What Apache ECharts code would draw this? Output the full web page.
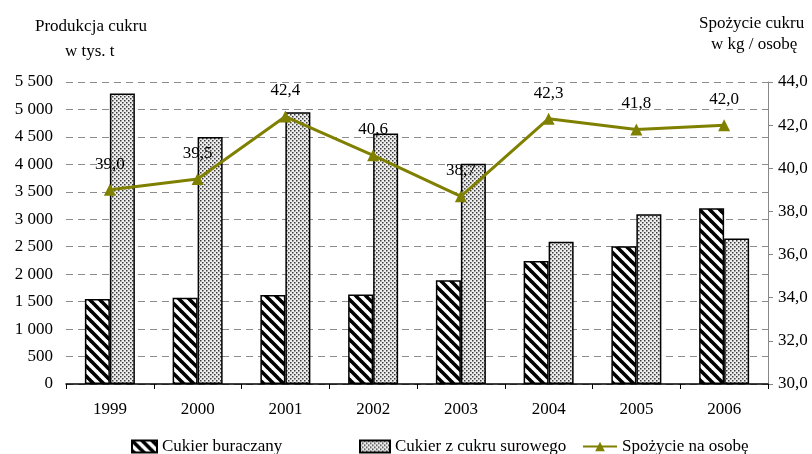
<!DOCTYPE html>
<html>
<head>
<meta charset="utf-8">
<script src="https://cdn.jsdelivr.net/npm/echarts@6/dist/echarts.min.js"></script>
<style>
html,body{margin:0;padding:0;background:#fff;}
#chart{width:812px;height:454px;}
</style>
</head>
<body>
<div id="chart"></div>
<script>
// ---- data ----
var years = ['1999','2000','2001','2002','2003','2004','2005','2006'];
var beetSugar = [1550, 1570, 1620, 1630, 1890, 2240, 2510, 3200];   // Cukier buraczany
var rawSugar  = [5290, 4500, 4950, 4560, 4010, 2590, 3090, 2650];   // Cukier z cukru surowego
var consumption = [39.0, 39.5, 42.4, 40.6, 38.7, 42.3, 41.8, 42.0]; // Spożycie na osobę
var seriesNames = ['Cukier buraczany', 'Cukier z cukru surowego', 'Spożycie na osobę'];
var leftTitle = ['Produkcja cukru', 'w tys. t'];
var rightTitle = ['Spożycie cukru', 'w kg / osobę'];

var FONT = '"Liberation Serif", "Times New Roman", serif';

function hatchPattern(){
  var c = document.createElement('canvas');
  c.width = 10; c.height = 10;
  var g = c.getContext('2d');
  g.fillStyle = '#fff'; g.fillRect(0,0,10,10);
  g.strokeStyle = '#000'; g.lineWidth = 3.6;
  for (var o = -10; o <= 10; o += 10){
    g.beginPath(); g.moveTo(o - 1, -1); g.lineTo(o + 11, 11); g.stroke();
  }
  return c;
}
function dotPattern(){
  var c = document.createElement('canvas');
  c.width = 4; c.height = 4;
  var g = c.getContext('2d');
  g.fillStyle = '#eeeeee'; g.fillRect(0,0,4,4);
  g.fillStyle = '#3a3a3a';
  g.fillRect(0,0,1.5,1.5);
  g.fillRect(2,2,1.5,1.5);
  return c;
}
var hatch = {image: hatchPattern(), repeat: 'repeat'};
var dots = {image: dotPattern(), repeat: 'repeat'};

function thousands(v){
  return String(v).replace(/\B(?=(\d{3})+(?!\d))/g, ' ');
}
function comma(v){ return Number(v).toFixed(1).replace('.', ','); }

var chart = echarts.init(document.getElementById('chart'), null, {renderer: 'canvas'});
var legendText = {fontFamily: FONT, fontSize: 17, color: '#000'};
chart.setOption({
  animation: false,
  backgroundColor: '#fff',
  textStyle: {fontFamily: FONT},
  grid: {left: 66, right: 44, top: 82, bottom: 70},
  legend: [
    {data: [{name: seriesNames[0], icon: 'rect'}], left: 126, top: 433, itemWidth: 25, itemHeight: 12, textStyle: legendText},
    {data: [{name: seriesNames[1], icon: 'rect'}], left: 354, top: 433, itemWidth: 30, itemHeight: 12, textStyle: legendText},
    {data: [seriesNames[2]], left: 577, top: 433, itemWidth: 34, itemHeight: 12, textStyle: legendText}
  ],
  graphic: [
    {type: 'text', left: 35, top: 18, style: {text: leftTitle[0], font: '17px ' + FONT, fill: '#000'}},
    {type: 'text', left: 65, top: 43, style: {text: leftTitle[1], font: '17px ' + FONT, fill: '#000'}},
    {type: 'text', left: 699, top: 15, style: {text: rightTitle[0], font: '17px ' + FONT, fill: '#000'}},
    {type: 'text', left: 711, top: 36, style: {text: rightTitle[1], font: '17px ' + FONT, fill: '#000'}}
  ],
  xAxis: {
    type: 'category',
    data: years,
    axisLine: {lineStyle: {color: '#000', width: 1.5}},
    axisTick: {show: true, alignWithLabel: false, interval: 0, length: 5, lineStyle: {color: '#000', width: 1}},
    axisLabel: {fontFamily: FONT, fontSize: 17, color: '#000', margin: 17}
  },
  yAxis: [
    {
      type: 'value', min: 0, max: 5500, interval: 500,
      axisLine: {show: false},
      axisTick: {show: false},
      splitLine: {show: true, lineStyle: {color: '#8c8c8c', type: [7, 5], width: 1}},
      axisLabel: {fontFamily: FONT, fontSize: 17, color: '#000', margin: 13, formatter: thousands}
    },
    {
      type: 'value', min: 30, max: 44, interval: 2, position: 'right',
      axisLine: {show: true, lineStyle: {color: '#888', width: 1}},
      axisTick: {show: true, length: 5, inside: false, lineStyle: {color: '#888'}},
      splitLine: {show: false},
      axisLabel: {fontFamily: FONT, fontSize: 17, color: '#000', margin: 10, formatter: comma}
    }
  ],
  series: [
    {
      name: seriesNames[0], type: 'bar', data: beetSugar, yAxisIndex: 0,
      barWidth: 25, barGap: '0%',
      itemStyle: {color: hatch, borderColor: '#000', borderWidth: 1.5}
    },
    {
      name: seriesNames[1], type: 'bar', data: rawSugar, yAxisIndex: 0,
      barWidth: 25, barGap: '0%',
      itemStyle: {color: dots, borderColor: '#000', borderWidth: 1.5}
    },
    {
      name: seriesNames[2], type: 'line', data: consumption, yAxisIndex: 1,
      symbol: 'triangle', symbolSize: 12,
      lineStyle: {color: '#808000', width: 3},
      itemStyle: {color: '#808000'},
      label: {show: true, position: 'top', distance: 11, fontFamily: FONT, fontSize: 17, color: '#000', formatter: function(p){ return comma(p.value); }},
      z: 5
    }
  ]
});
</script>
</body>
</html>
